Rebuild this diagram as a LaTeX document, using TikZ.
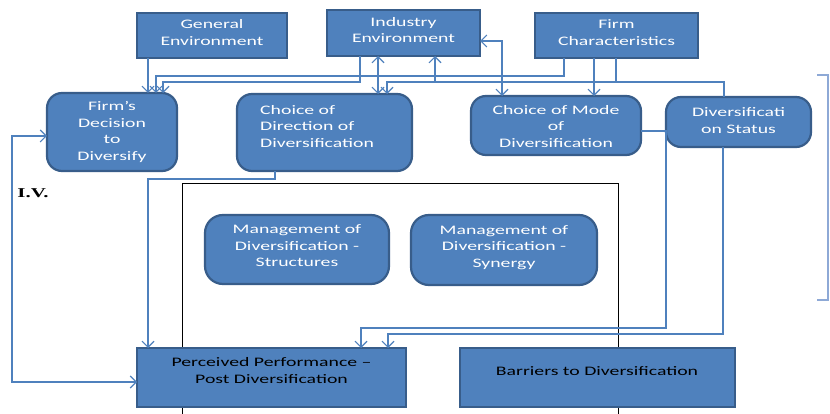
\documentclass[tikz,border=0pt]{standalone}
\usepackage{fontspec}
\setmainfont{Carlito}[FakeStretch=1.52]
\newfontfamily\ivfont{Liberation Serif}[FakeStretch=1.55]
\usetikzlibrary{arrows.meta}
\definecolor{boxfill}{HTML}{4F81BD}
\definecolor{boxline}{HTML}{385D8A}
\definecolor{conncol}{HTML}{4F81BD}
\definecolor{brkcol}{HTML}{8EA9D6}
\begin{document}
\begin{tikzpicture}[x=1pt,y=-1pt,
  box/.style={draw=boxline, line width=2.2pt, fill=boxfill, inner sep=0pt, outer sep=0pt, anchor=north west},
  rbox/.style={box, rounded corners=15pt},
  wtxt/.style={inner sep=0pt, align=center, text=white, font=\fontsize{13}{16.5}\selectfont},
  btxt/.style={inner sep=0pt, align=center, text=black, font=\fontsize{13}{16.5}\selectfont},
  conn/.style={draw=conncol, line width=1.1pt},
  tip/.style={-{Straight Barb[length=6pt,width=12pt,line width=1.1pt]}},
  tips/.style={{Straight Barb[length=6pt,width=12pt,line width=1.1pt]}-{Straight Barb[length=6pt,width=12pt,line width=1.1pt]}},
  frame/.style={draw=black, line width=0.9pt},
  brk/.style={draw=brkcol, line width=1.1pt}
]
\fill[white] (0,0) rectangle (830,414);
\useasboundingbox (0,0) rectangle (830,414);

% black frame (open at bottom)
\draw[frame] (182,414) -- (182,183) -- (618,183) -- (618,414);

% right bracket
\draw[brk] (817,75) -- (828,75) -- (828,300) -- (817,300);

% boxes
\node[box, minimum width=150pt, minimum height=45pt] (gen) at (137,13) {};
\node[box, minimum width=153pt, minimum height=46pt] (ind) at (327,10) {};
\node[box, minimum width=163pt, minimum height=45pt] (firm) at (535,13) {};
\node[rbox, minimum width=130pt, minimum height=78pt] (dec) at (47,93) {};
\node[rbox, minimum width=175pt, minimum height=77pt] (dir) at (237,94) {};
\node[rbox, minimum width=170pt, minimum height=59pt] (mode) at (471,96) {};
\node[rbox, minimum width=145pt, minimum height=50pt] (stat) at (666,97) {};
\node[rbox, rounded corners=18pt, minimum width=184pt, minimum height=69pt] (ms) at (205,215) {};
\node[rbox, rounded corners=18pt, minimum width=186pt, minimum height=70pt] (msy) at (411,215) {};
\node[box, minimum width=269pt, minimum height=59pt] (perf) at (137,348) {};
\node[box, minimum width=275pt, minimum height=59pt] (bar) at (460,348) {};

% texts
\node[wtxt] (gent) at (212,32.5) {General\\Environment};
\node[wtxt] (indt) at (403.5,30) {Industry\\Environment};
\node[wtxt] (firmt) at (616.5,32.5) {Firm\\Characteristics};
\node[wtxt] (dect) at (112,132) {Firm’s\\Decision\\to\\Diversify};
\node[wtxt, align=left, anchor=west] (dirt) at (260,126.5) {Choice of\\Direction of\\Diversification};
\node[wtxt] (modet) at (556,126.5) {Choice of Mode\\of\\Diversification};
\node[wtxt] (statt) at (738.5,120.5) {Diversificati\\on Status};
\node[wtxt] (mst) at (297,246) {Management of\\Diversification -\\Structures};
\node[wtxt] (msyt) at (504,247.5) {Management of\\Diversification -\\Synergy};
\node[btxt] (perft) at (271.5,370.5) {Perceived Performance –\\Post Diversification};
\node[btxt] (bart) at (597,371) {Barriers to Diversification};
\node[inner sep=0pt, font=\ivfont\bfseries\fontsize{13.5}{15}\selectfont] (iv) at (33,193) {I.V.};

% connectors
\coordinate (j1) at (435,82);
\coordinate (j2) at (616,82);
\draw[conn, tip] (gen.south -| 148,0) -- (dec.north -| 148,0);
\draw[conn, tip] (ind.south -| 360,0) -- (360,82) -- (163,82) -- (dec.north -| 163,0);
\draw[conn, tip] (firm.south -| 564,0) -- (564,76) -- (156,76) -- (dec.north -| 156,0);
\draw[conn, tips] (ind.south -| 378,0) -- (dir.north -| 378,0);
\draw[conn, tip] (firm.south -| 616,0) -- (j2) -- (387,82) -- (dir.north -| 387,0);
\draw[conn, tip] (j1) -- (ind.south -| 435,0);
\draw[conn] (j2) -- (724,82) -- (stat.north -| 724,0);
\draw[conn, tip] (firm.south -| 594,0) -- (mode.north -| 594,0);
\draw[conn, tips] (ind.east |- 0,41) -- (502,41) -- (mode.north -| 502,0);
\draw[conn, tip] (dir.south -| 275,0) -- (275,179) -- (148,179) -- (perf.north -| 148,0);
\draw[conn, tips] (dec.west |- 0,136) -- (12,136) -- (12,382) -- (perf.west |- 0,382);
\draw[conn, tip] (mode.east |- 0,131) -- (666,131) -- (666,328) -- (361,328) -- (perf.north -| 361,0);
\draw[conn, tip] (stat.south -| 723,0) -- (723,334) -- (388,334) -- (perf.north -| 388,0);
\end{tikzpicture}
\end{document}
